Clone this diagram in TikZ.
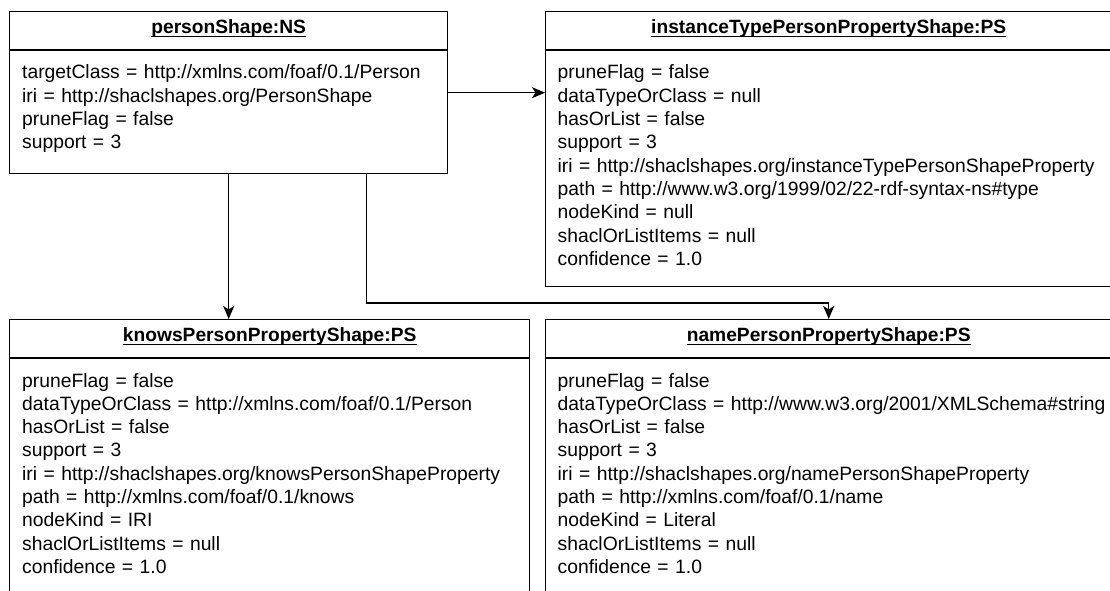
\documentclass[tikz,border=0pt]{standalone}
\usepackage{fontspec}
\setmainfont{Liberation Sans}
\usetikzlibrary{arrows.meta,calc}

\tikzset{
  shapebox/.style={draw, line width=1.4pt, rectangle, inner sep=0pt, anchor=north west},
  divider/.style={line width=1.9pt},
  titletext/.style={font=\fontsize{19.2}{23}\selectfont\bfseries, inner sep=0pt, anchor=base},
  titlerule/.style={line width=1.4pt},
  bodytext/.style={font=\fontsize{19.3}{23.3}\selectfont, inner sep=0pt, anchor=base west,
                   align=left, text width=600pt},
  link/.style={line width=1.4pt, -{Stealth[length=13pt,width=11pt,inset=3.5pt]}},
}

\begin{document}
\begin{tikzpicture}[x=1pt,y=-1pt]
  \useasboundingbox (0,0) rectangle (1110,591);
  \fill[white] (0,0) rectangle (1110,591);
  \clip (0,0) rectangle (1110,591);

  % shape boxes
  \node[shapebox, minimum width=438pt, minimum height=162pt] (ps)    at (9,11)    {};
  \node[shapebox, minimum width=566pt, minimum height=275pt] (inst)  at (545,11)  {};
  \node[shapebox, minimum width=520pt, minimum height=275pt] (knows) at (9,319)   {};
  \node[shapebox, minimum width=566pt, minimum height=275pt] (name)  at (545,319) {};

  % header separators
  \foreach \b in {ps,inst,knows,name}{
    \draw[divider] ([yshift=-39pt]\b.north west) -- ([yshift=-39pt]\b.north east);
  }

  % underlined titles
  \node[titletext] (ps-title)    at ([yshift=-22.7pt]ps.north)    {personShape:NS};
  \node[titletext] (inst-title)  at ([yshift=-22.7pt]inst.north)  {instanceTypePersonPropertyShape:PS};
  \node[titletext] (knows-title) at ([yshift=-22.7pt]knows.north) {knowsPersonPropertyShape:PS};
  \node[titletext] (name-title)  at ([yshift=-22.7pt]name.north)  {namePersonPropertyShape:PS};
  \foreach \t in {ps-title,inst-title,knows-title,name-title}{
    \draw[titlerule] ([yshift=-2.8pt]\t.base west) -- ([yshift=-2.8pt]\t.base east);
  }

  % attribute lists
  \node[bodytext] (ps-body) at ([xshift=13pt,yshift=-68pt]ps.north west) {%
    targetClass = http://xmlns.com/foaf/0.1/Person\\
    iri = http://shaclshapes.org/PersonShape\\
    pruneFlag = false\\
    support = 3};

  \node[bodytext] (inst-body) at ([xshift=12.5pt,yshift=-68pt]inst.north west) {%
    pruneFlag = false\\
    dataTypeOrClass = null\\
    hasOrList = false\\
    support = 3\\
    iri = http://shaclshapes.org/instanceTypePersonShapeProperty\\
    path = http://www.w3.org/1999/02/22-rdf-syntax-ns\#type\\
    nodeKind = null\\
    shaclOrListItems = null\\
    confidence = 1.0};

  \node[bodytext] (knows-body) at ([xshift=13pt,yshift=-68pt]knows.north west) {%
    pruneFlag = false\\
    dataTypeOrClass = http://xmlns.com/foaf/0.1/Person\\
    hasOrList = false\\
    support = 3\\
    iri = http://shaclshapes.org/knowsPersonShapeProperty\\
    path = http://xmlns.com/foaf/0.1/knows\\
    nodeKind = IRI\\
    shaclOrListItems = null\\
    confidence = 1.0};

  \node[bodytext] (name-body) at ([xshift=12.5pt,yshift=-68pt]name.north west) {%
    pruneFlag = false\\
    dataTypeOrClass = http://www.w3.org/2001/XMLSchema\#string\\
    hasOrList = false\\
    support = 3\\
    iri = http://shaclshapes.org/namePersonShapeProperty\\
    path = http://xmlns.com/foaf/0.1/name\\
    nodeKind = Literal\\
    shaclOrListItems = null\\
    confidence = 1.0};

  % connectors
  \draw[link] (ps.east) -- (ps.east -| inst.west);
  \draw[link] (ps.south) -- (ps.south |- knows.north);
  \coordinate (ps-out) at ([xshift=138pt]ps.south);
  \draw[link] (ps-out) |- ([yshift=16pt]name.north) -- (name.north);
\end{tikzpicture}
\end{document}
